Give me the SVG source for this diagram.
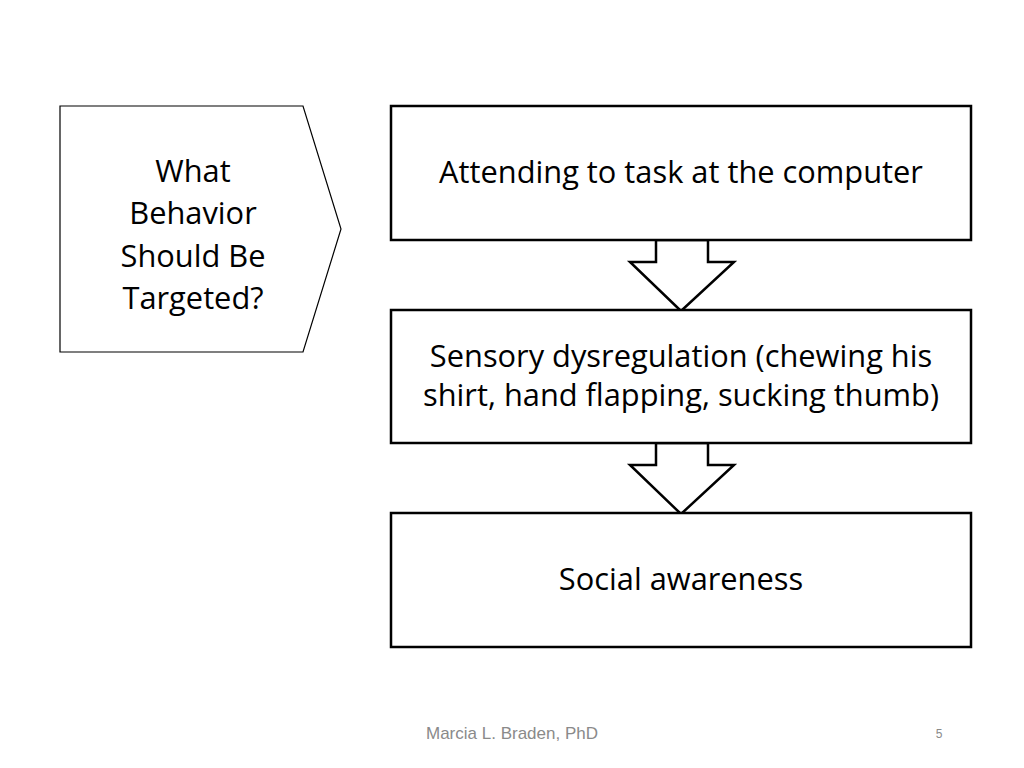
<svg xmlns="http://www.w3.org/2000/svg" width="1024" height="768" viewBox="0 0 1024 768">
<style>
.box{fill:#fff;stroke:#000;stroke-width:2.5}
.arrow{fill:#fff;stroke:#000;stroke-width:2.5;stroke-linejoin:miter}
.t{font-family:"Open Sans",Lato,sans-serif;font-size:30.8px;fill:#000;text-anchor:middle}
.f{font-family:"Liberation Sans",Arial,sans-serif;fill:#8a8a8a}
</style>
<rect width="1024" height="768" fill="#fff"/>
<g id="question">
<polygon points="60,106 303,106 341,229 303,352 60,352" fill="#fff" stroke="#000" stroke-width="1.2"/>
<text class="t" x="193" y="182">What</text>
<text class="t" x="193" y="224">Behavior</text>
<text class="t" x="193" y="267">Should Be</text>
<text class="t" x="193" y="309">Targeted?</text>
</g>
<g id="connectors">
<polygon class="arrow" points="656,240 656,262 630,262 681,311 734,262 708,262 708,240"/>
<polygon class="arrow" points="656,443 656,465 630,465 681,514 734,465 708,465 708,443"/>
</g>
<g id="box1">
<rect class="box" x="391" y="106" width="580" height="134"/>
<text class="t" x="681" y="183">Attending to task at the computer</text>
</g>
<g id="box2">
<rect class="box" x="391" y="310" width="580" height="133"/>
<text class="t" x="681" y="367">Sensory dysregulation (chewing his</text>
<text class="t" x="681" y="406">shirt, hand flapping, sucking thumb)</text>
</g>
<g id="box3">
<rect class="box" x="391" y="513" width="580" height="134"/>
<text class="t" x="681" y="590">Social awareness</text>
</g>
<g id="footer">
<text class="f" x="426" y="739" font-size="17">Marcia L. Braden, PhD</text>
<text class="f" x="939" y="738" font-size="12" text-anchor="middle">5</text>
</g>
</svg>
